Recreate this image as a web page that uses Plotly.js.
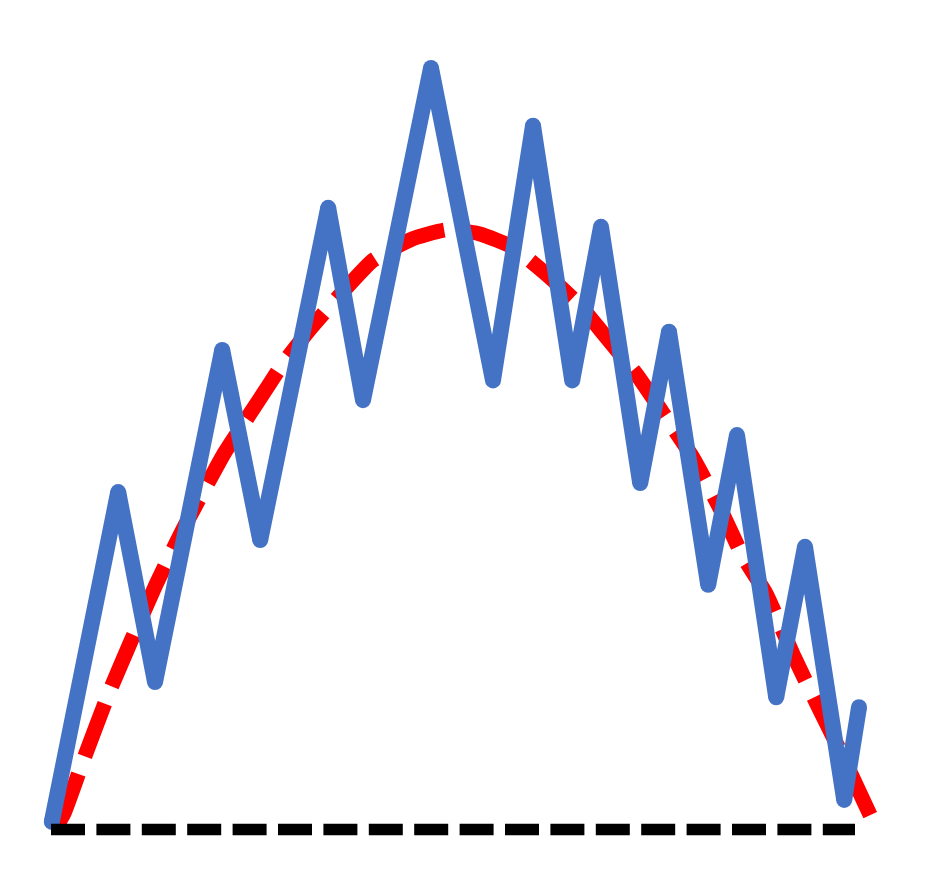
<!DOCTYPE html>
<html>
<head>
<meta charset="utf-8">
<script src="https://cdn.plot.ly/plotly-3.0.1.min.js"></script>
<style>
  html, body { margin: 0; padding: 0; background: #fff; }
  #chart { width: 930px; height: 880px; }
</style>
</head>
<body>
<div id="chart"></div>
<script>
// zigzag series (blue)
const zigX = [-0.08, 1.58, 2.5, 4.18, 5.13, 6.83, 7.7, 9.4, 10.95, 11.95, 12.93, 13.65, 14.63, 15.35, 16.33, 17.05, 18.03, 18.75, 19.73, 20.1];
const zigY = [0.8, 44.2, 19.2, 62.9, 37.9, 81.6, 56.3, 100, 58.9, 92.4, 58.9, 79.1, 45.4, 65.3, 32.0, 51.7, 17.2, 37.0, 3.7, 15.9];

// smooth trend (red dashed)
const trendX = [0.05, 0.23, 0.7, 1.35, 1.9, 2.53, 3.18, 3.73, 4.23, 5.0, 5.7, 6.4, 7.1, 7.95, 8.93, 9.78, 10.6, 11.45, 12.3, 13.15, 13.7, 14.55, 15.25, 15.95, 16.65, 17.2, 17.78, 18.48, 19.05, 19.75, 20.38];
const trendY = [0.3, 2.0, 8.8, 17.8, 24.6, 32.1, 39.1, 44.5, 49.3, 55.5, 61.1, 65.8, 70.0, 74.7, 77.5, 78.7, 78.2, 76.4, 72.8, 68.6, 65.1, 59.6, 54.2, 48.7, 41.8, 35.7, 30.8, 22.5, 16.3, 8.8, 1.7];

// baseline (black dashed)
const baseX = [-0.1, 20];
const baseY = [-0.2, -0.2];

const blue = '#4472C4';

const traces = [
  { x: trendX, y: trendY, mode: 'lines', line: { color: '#FF0000', width: 15, dash: '56px,19px', shape: 'spline', smoothing: 0.5 }, hoverinfo: 'skip' },
  { x: zigX, y: zigY, mode: 'lines+markers', line: { color: blue, width: 16 }, marker: { color: blue, size: 16 }, hoverinfo: 'skip' },
  { x: baseX, y: baseY, mode: 'lines', line: { color: '#000000', width: 11.5, dash: '34px,11.4px' }, hoverinfo: 'skip' }
];

const layout = {
  width: 930, height: 880,
  margin: { l: 0, r: 0, t: 0, b: 0 },
  paper_bgcolor: '#ffffff', plot_bgcolor: '#ffffff',
  showlegend: false,
  xaxis: { visible: false, range: [-1.375, 21.875], fixedrange: true },
  yaxis: { visible: false, range: [-6.84, 108.95], fixedrange: true }
};

Plotly.newPlot('chart', traces, layout, { displayModeBar: false, staticPlot: true });
</script>
</body>
</html>
